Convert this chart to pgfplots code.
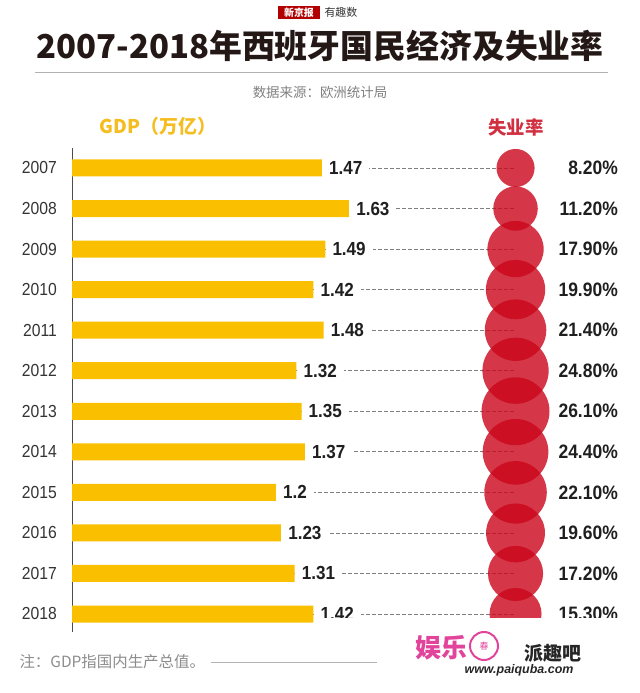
\documentclass[border=0pt]{standalone}
\usepackage{pgfplots}
\pgfplotsset{compat=1.18}
\usepackage{pgfplotstable}
\usepackage{fontspec}
\setmainfont{Liberation Sans}
\newfontfamily\cjk{Noto Sans CJK SC}
\newfontfamily\num{Liberation Sans}[FakeStretch=0.9]
\definecolor{gold}{HTML}{FAC000}
\definecolor{goldtxt}{HTML}{F5BD1F}
\definecolor{circred}{HTML}{CA051A}
\definecolor{redtxt}{HTML}{D0303F}
\definecolor{titlecol}{HTML}{231815}
\definecolor{pinkw}{HTML}{E2449C}

\pgfplotstableread{
year gdp u
2007 1.47 8.2
2008 1.63 11.2
2009 1.49 17.9
2010 1.42 19.9
2011 1.48 21.4
2012 1.32 24.8
2013 1.35 26.1
2014 1.37 24.4
2015 1.20 22.1
2016 1.23 19.6
2017 1.31 17.2
2018 1.42 15.3
}\data

\begin{document}
\begin{tikzpicture}
\path[use as bounding box] (0,0) rectangle (640bp,693bp);

% header logo
\fill[red!70!black] (278bp,674bp) rectangle (320bp,687bp);
\node[font=\cjk\bfseries\fontsize{10}{10}\selectfont, text=white] at (299bp,680.5bp) {新京报};
\node[font=\cjk\itshape\fontsize{11}{11}\selectfont, text=black!80, anchor=west] at (321bp,680.5bp) {有趣数};

% title
\node[font=\cjk\bfseries\fontsize{33}{33}\selectfont, text=titlecol] at (320bp,647bp) {2007-2018年西班牙国民经济及失业率};
\draw[black!30, line width=1bp] (35bp,620bp) -- (608bp,620bp);
\node[font=\cjk\fontsize{13.5}{13.5}\selectfont, text=black!50] at (320bp,601bp) {数据来源：欧洲统计局};

% column headers
\node[font=\cjk\bfseries\fontsize{19}{19}\selectfont, text=goldtxt] at (158bp,567bp) {GDP（万亿）};
\node[font=\cjk\bfseries\fontsize{18.5}{18.5}\selectfont, text=redtxt] at (516bp,566bp) {失业率};

\begin{axis}[
  at={(72bp,61bp)}, anchor=south west,
  scale only axis, width=561bp, height=484bp,
  xmin=0, xmax=3.3,
  ymin=2006.507, ymax=2018.444, y dir=reverse,
  axis x line=none, axis y line=left,
  axis line style={-, draw=black!70, line width=1bp},
  ytick={2007,...,2018},
  major tick length=0pt,
  /pgf/number format/1000 sep={},
  /pgf/number format/assume math mode=true,
  yticklabel style={font=\num\fontsize{17.5}{17.5}\selectfont, text=black!80, inner xsep=0pt, xshift=-15bp},
  clip=false,
]
% dashed guide lines
\addplot[xcomb, draw=black!50, dash pattern=on 3.5bp off 2.5bp, line width=0.8bp, mark=none]
  table[x expr=2.609, y=year] {\data};
% GDP bars
\addplot[xbar, bar width=17bp, fill=gold, draw=none,
  point meta=x,
  nodes near coords={\pgfmathprintnumber[fixed,precision=2]{\pgfplotspointmeta}},
  nodes near coords style={anchor=west, inner xsep=7bp, inner ysep=1bp, fill=white,
    font=\num\bfseries\fontsize{19}{19}\selectfont, text=black!88,
    /pgf/number format/assume math mode=true}]
  table[x=gdp, y=year] {\data};
% unemployment circles
\addplot[scatter, only marks, mark=*, draw=none,
  mark options={draw=none},
  scatter/use mapped color={draw=none, draw opacity=0, fill=circred, fill opacity=0.8},
  visualization depends on={6.65*sqrt(\thisrow{u}) \as \rad},
  scatter/@pre marker code/.append style={/tikz/mark size=\rad bp}]
  table[x expr=2.609, y=year] {\data};
% percent labels
\addplot[only marks, mark=*, mark size=0pt, mark options={draw=none, fill=none},
  point meta=\thisrow{u},
  nodes near coords={\pgfmathprintnumber[fixed,fixed zerofill,precision=2]{\pgfplotspointmeta}\%},
  nodes near coords style={anchor=east, inner xsep=0pt,
    font=\num\bfseries\fontsize{19.5}{19.5}\selectfont, text=black!88,
    /pgf/number format/assume math mode=true}]
  table[x expr=3.212, y=year] {\data};
\end{axis}

% cut-off region at bottom right
\fill[white] (318bp,0) rectangle (640bp,75bp);

% footer
\node[font=\cjk\fontsize{15.5}{15.5}\selectfont, text=black!45, anchor=west] at (16bp,31bp) {注：GDP指国内生产总值。};
\draw[black!30, line width=0.8bp] (211bp,31bp) -- (377bp,31bp);

% watermark
\node[font=\cjk\bfseries\fontsize{26}{26}\selectfont, text=pinkw] at (441bp,45bp) {娱乐};
\draw[pinkw, line width=2bp] (484bp,47bp) circle (14bp);
\node[font=\cjk\fontsize{9}{9}\selectfont, text=pinkw] at (484bp,47bp) {春};
\node[font=\cjk\bfseries\fontsize{19}{19}\selectfont, text=black!85] at (553bp,40bp) {派趣吧};
\node[font=\bfseries\itshape\fontsize{12.5}{12.5}\selectfont, text=black!85] at (519bp,23bp) {www.paiquba.com};
\end{tikzpicture}
\end{document}
